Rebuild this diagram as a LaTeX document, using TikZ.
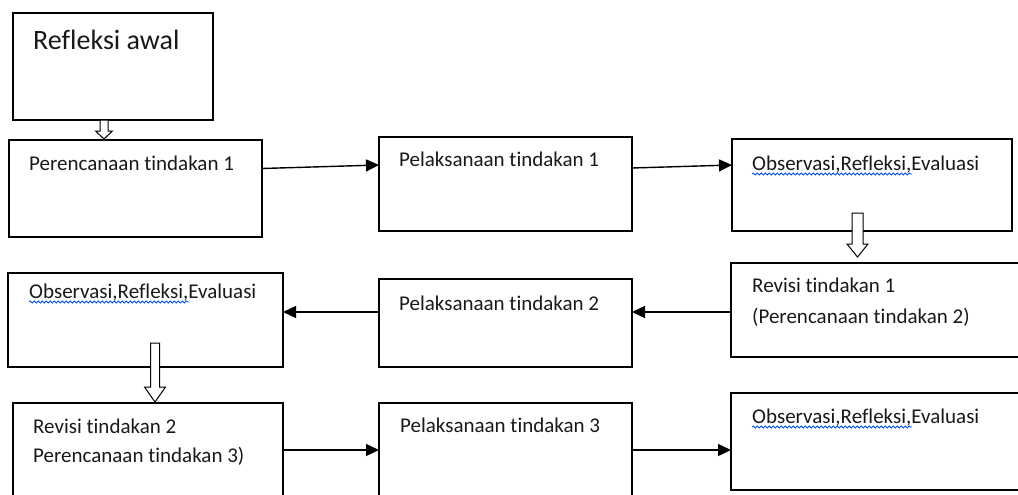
\documentclass[tikz,border=0pt]{standalone}
\usepackage{fontspec}
\setmainfont{Carlito}[Ligatures={NoCommon}]
\usetikzlibrary{arrows.meta, calc, decorations.pathmorphing}

\tikzset{
  box/.style={draw, line width=1.3pt, anchor=north west, inner sep=0pt, outer sep=0pt},
  txt/.style={anchor=base west, inner sep=0pt, font=\fontsize{21}{25}\selectfont, text=black!90},
  flow/.style={line width=1.4pt, -{Triangle[length=13pt,width=12pt]}},
  spell/.style={blue!70!cyan, line width=0.8pt, decorate, decoration={snake, amplitude=1pt, segment length=4pt}},
  hollowarrow/.style n args={3}{draw, fill=white, line width=1pt,
    to path={let \p1=(\tikztostart), \p2=(\tikztotarget) in
      (\x1-#1,\y1) -- (\x1-#1,\y2+#3) -- (\x1-#2,\y2+#3) -- (\x2,\y2)
      -- (\x1+#2,\y2+#3) -- (\x1+#1,\y2+#3) -- (\x1+#1,\y1) -- cycle}}
}

\begin{document}
\begin{tikzpicture}[x=1pt, y=-1pt]
    \useasboundingbox (0,0) rectangle (1018,495);
    \clip (0,0) rectangle (1018,495);

    % Draw boxes
    \foreach \n/\x/\y/\w/\h in {refl/13/13/200/107, per1/9/140/253/97, pel1/379/137/253/94,
        obsA/732/139/280/92, revA/731/263/300/94, pel2/379/279/253/88, obsB/8/273/275/94,
        revB/13/403/270/100, pel3/379/403/253/100, obsC/731/393/300/97} {
      \node[box, minimum width=\w pt, minimum height=\h pt] (\n) at (\x,\y) {};
    }

    % Texts in the boxes
    \node[txt, font=\fontsize{28}{32}\selectfont] (tRefl) at (33,50) {Refleksi awal};
    \node[txt] (tPer1) at (29,170) {Perencanaan tindakan 1};
    \node[txt] (tPel1) at (399,166) {Pelaksanaan tindakan 1};
    \node[txt] (tObsA) at (752,170) {Observasi,Refleksi,Evaluasi};
    \node[txt] (tRevA) at (752,292) {Revisi tindakan 1};
    \node[txt] (tRevA2) at (752,323) {(Perencanaan tindakan 2)};
    \node[txt] (tPel2) at (399,310) {Pelaksanaan tindakan 2};
    \node[txt] (tObsB) at (29,298) {Observasi,Refleksi,Evaluasi};
    \node[txt] (tRevB) at (33,433) {Revisi tindakan 2};
    \node[txt] (tRevB2) at (33,462) {Perencanaan tindakan 3)};
    \node[txt] (tPel3) at (400,432) {Pelaksanaan tindakan 3};
    \node[txt] (tObsC) at (752,423) {Observasi,Refleksi,Evaluasi};

    % Spelling marks
    \foreach \t in {tObsA, tObsB, tObsC} {
      \draw[spell] ([yshift=-4]\t.base west) -- ++(160,0);
    }

    % Arrows between the boxes
    \draw[flow] ([yshift=20]per1.east) -- ([yshift=19]pel1.west);
    \draw[flow] ([yshift=16]pel1.east) -- ([yshift=20]obsA.west);
    \draw[flow] ([yshift=-2]revA.west) -- ([yshift=11]pel2.east);
    \draw[flow] ([yshift=11]pel2.west) -- ([yshift=8]obsB.east);
    \draw[flow] ([yshift=3]revB.east) -- ([yshift=3]pel3.west);
    \draw[flow] ([yshift=3]pel3.east) -- ([yshift=-8.5]obsC.west);

    % Hollow arrows going down
    \coordinate (hA) at ([xshift=-9]refl.south);
    \coordinate (hB) at ([xshift=-14.5,yshift=18]obsA.south);
    \coordinate (hC) at ([xshift=9.5,yshift=24]obsB.south);
    \draw[hollowarrow={4pt}{8.5pt}{8pt}] (hA) to ($(hA |- per1.north)+(0,-1)$);
    \draw[hollowarrow={5.5pt}{10.5pt}{13pt}] (hB) to ($(hB |- revA.north)+(0,-6)$);
    \draw[hollowarrow={4.5pt}{10.5pt}{15pt}] (hC) to ($(hC |- revB.north)+(0,-1)$);
\end{tikzpicture}
\end{document}
